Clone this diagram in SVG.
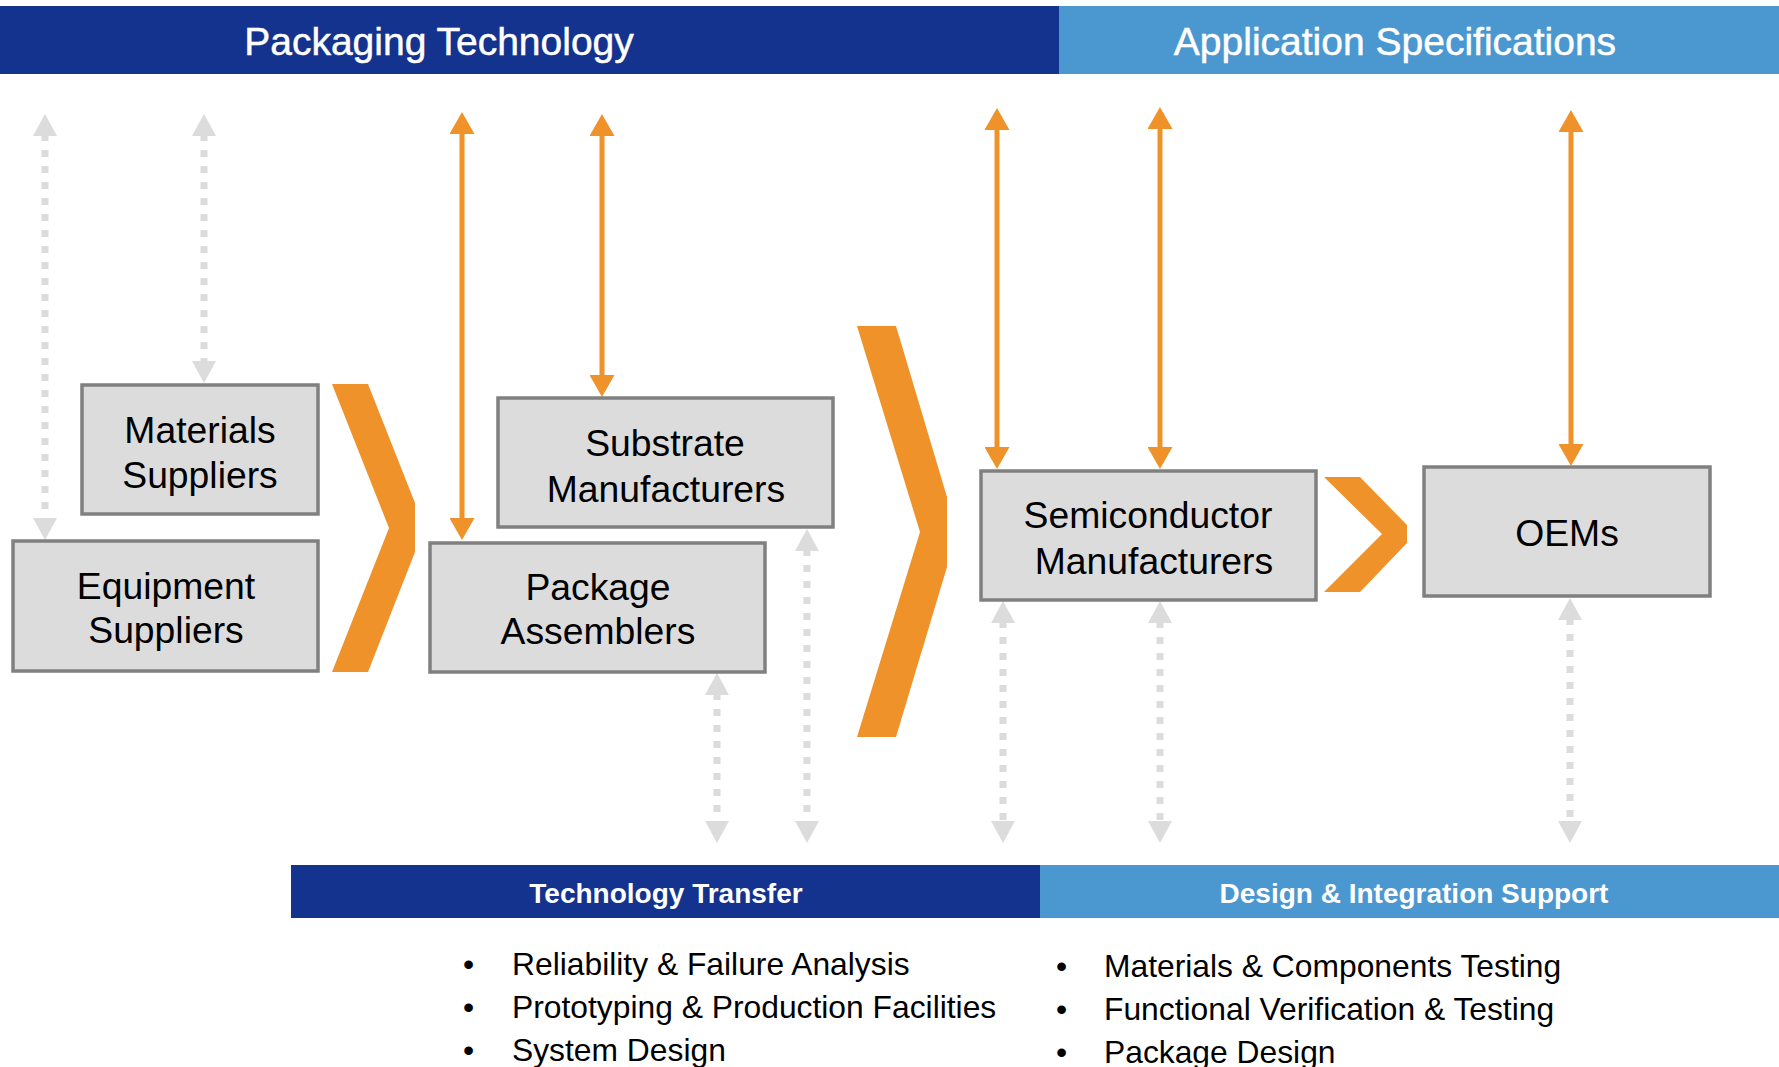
<svg xmlns="http://www.w3.org/2000/svg" width="1779" height="1067" viewBox="0 0 1779 1067">
  <defs>
    <style>
      .band-dark { fill: #14338E; }
      .band-light { fill: #4B98D1; }
      .head { font-family: "Liberation Sans", Arial, sans-serif; font-size: 39px; fill: #ffffff; stroke: #ffffff; stroke-width: 0.5; text-anchor: middle; }
      .sub { font-family: "Liberation Sans", Arial, sans-serif; font-size: 28px; font-weight: bold; fill: #ffffff; text-anchor: middle; }
      .box { fill: #DCDCDC; stroke: #808080; stroke-width: 3.5; }
      .label { font-family: "Liberation Sans", Arial, sans-serif; font-size: 37.3px; fill: #000000; text-anchor: middle; }
      .chev { fill: #EF9229; }
      .flow { stroke: #EF9229; stroke-width: 5; fill: none; marker-start: url(#tipO); marker-end: url(#tipO); }
      .link { stroke: #DCDCDC; stroke-width: 7; stroke-dasharray: 7 9; fill: none; marker-start: url(#tipG); marker-end: url(#tipG); }
      .item { font-family: "Liberation Sans", Arial, sans-serif; font-size: 31.8px; fill: #000000; }
    </style>
    <marker id="tipO" viewBox="0 0 22 25" refX="2" refY="12.5" markerWidth="22" markerHeight="25" markerUnits="userSpaceOnUse" orient="auto-start-reverse">
      <path d="M0,0 L22,12.5 L0,25 z" fill="#EF9229"/>
    </marker>
    <marker id="tipG" viewBox="0 0 22 24" refX="2" refY="12" markerWidth="22" markerHeight="24" markerUnits="userSpaceOnUse" orient="auto-start-reverse">
      <path d="M0,0 L22,12 L0,24 z" fill="#DCDCDC"/>
    </marker>
  </defs>

  <rect width="1779" height="1067" fill="#ffffff"/>

  <!-- top headers -->
  <g id="header-packaging">
    <rect class="band-dark" x="0" y="6" width="1059" height="68"/>
    <text class="head" x="439" y="55">Packaging Technology</text>
  </g>
  <g id="header-application">
    <rect class="band-light" x="1059" y="6" width="720" height="68"/>
    <text class="head" x="1395" y="55">Application Specifications</text>
  </g>

  <!-- flow chevrons -->
  <g id="chevron-1">
    <polygon class="chev" points="332,384 368,384 415,503 415,552 368,672 332,672 389,528"/>
  </g>
  <g id="chevron-2">
    <polygon class="chev" points="857,326 896,326 947,497 947,567 896,737 857,737 920,532"/>
  </g>
  <g id="chevron-3">
    <polygon class="chev" points="1324,477 1360,477 1407,525 1407,543 1360,592 1324,592 1382,534"/>
  </g>

  <!-- connectors -->
  <g id="connectors">
    <line class="flow" x1="462" y1="132" x2="462" y2="520"/>
    <line class="flow" x1="602" y1="134" x2="602" y2="377"/>
    <line class="flow" x1="997" y1="128" x2="997" y2="449"/>
    <line class="flow" x1="1160" y1="127" x2="1160" y2="449"/>
    <line class="flow" x1="1571" y1="130" x2="1571" y2="446"/>

    <line class="link" x1="45" y1="134" x2="45" y2="520"/>
    <line class="link" x1="204" y1="134" x2="204" y2="363"/>
    <line class="link" x1="717" y1="693" x2="717" y2="823"/>
    <line class="link" x1="807" y1="549" x2="807" y2="823"/>
    <line class="link" x1="1003" y1="621" x2="1003" y2="823"/>
    <line class="link" x1="1160" y1="621" x2="1160" y2="823"/>
    <line class="link" x1="1570" y1="618" x2="1570" y2="823"/>
  </g>

  <!-- nodes -->
  <g id="materials-suppliers">
    <rect class="box" x="82" y="385" width="236" height="129"/>
    <text class="label" x="200" y="443">Materials</text>
    <text class="label" x="200" y="488">Suppliers</text>
  </g>
  <g id="equipment-suppliers">
    <rect class="box" x="13" y="541" width="305" height="130"/>
    <text class="label" x="166" y="599">Equipment</text>
    <text class="label" x="166" y="643">Suppliers</text>
  </g>
  <g id="substrate-manufacturers">
    <rect class="box" x="498" y="398" width="335" height="129"/>
    <text class="label" x="665" y="456">Substrate</text>
    <text class="label" x="666" y="502">Manufacturers</text>
  </g>
  <g id="package-assemblers">
    <rect class="box" x="430" y="543" width="335" height="129"/>
    <text class="label" x="598" y="600">Package</text>
    <text class="label" x="598" y="644">Assemblers</text>
  </g>
  <g id="semiconductor-manufacturers">
    <rect class="box" x="981" y="471" width="335" height="129"/>
    <text class="label" x="1148" y="528">Semiconductor</text>
    <text class="label" x="1154" y="574">Manufacturers</text>
  </g>
  <g id="oems">
    <rect class="box" x="1424" y="467" width="286" height="129"/>
    <text class="label" x="1567" y="546">OEMs</text>
  </g>

  <!-- service bands -->
  <g id="technology-transfer">
    <rect class="band-dark" x="291" y="865" width="749" height="53"/>
    <text class="sub" x="666" y="903">Technology Transfer</text>
    <text class="item" x="463" y="975">•</text>
    <text class="item" x="512" y="975">Reliability &amp; Failure Analysis</text>
    <text class="item" x="463" y="1018">•</text>
    <text class="item" x="512" y="1018">Prototyping &amp; Production Facilities</text>
    <text class="item" x="463" y="1061">•</text>
    <text class="item" x="512" y="1061">System Design</text>
  </g>
  <g id="design-integration-support">
    <rect class="band-light" x="1040" y="865" width="739" height="53"/>
    <text class="sub" x="1414" y="903">Design &amp; Integration Support</text>
    <text class="item" x="1056" y="977">•</text>
    <text class="item" x="1104" y="977">Materials &amp; Components Testing</text>
    <text class="item" x="1056" y="1020">•</text>
    <text class="item" x="1104" y="1020">Functional Verification &amp; Testing</text>
    <text class="item" x="1056" y="1063">•</text>
    <text class="item" x="1104" y="1063">Package Design</text>
  </g>
</svg>
